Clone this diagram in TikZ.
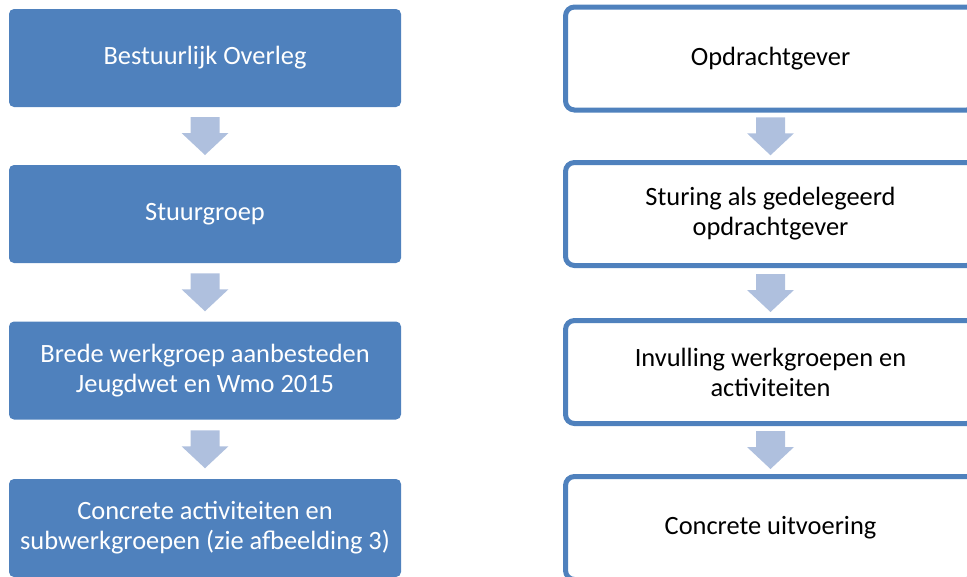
\documentclass[tikz,border=0pt]{standalone}
\usepackage{fontspec}
\setmainfont{Carlito}
\usetikzlibrary{calc}
\definecolor{accblue}{HTML}{4F81BD}
\definecolor{arrowblue}{RGB}{175,192,222}
\tikzset{
  leftbox/.style={fill=accblue, draw=none, rounded corners=5pt, minimum width=392pt, minimum height=98pt,
    align=center, text=white, inner sep=0pt, outer sep=0pt, font=\fontsize{26.4}{30}\selectfont},
  rightbox/.style={draw=accblue, fill=white, line width=5pt, rounded corners=9pt, minimum width=410pt, minimum height=103pt,
    align=center, text=black, inner sep=0pt, font=\fontsize{26.4}{30}\selectfont},
  blockarrow/.style={fill=arrowblue, draw=none}
}
\newcommand{\blockarr}[3]{%
  \coordinate (#3) at ($(#1.south)!0.5!(#2.north)$);
  \fill[blockarrow] (#3) ++(-14.5,-19) -- ++(29,0) -- ++(0,16) -- ++(9,0) -- ++(-23.5,22) -- ++(-23.5,-22) -- ++(9,0) -- cycle;
}
\begin{document}
\begin{tikzpicture}[x=1pt,y=-1pt]
\useasboundingbox (0,0) rectangle (967,576);
\clip (0,0) rectangle (967,576);
% left column
\node[leftbox] (l1) at (205,58) {Bestuurlijk Overleg};
\node[leftbox] (l2) at (205,214) {Stuurgroep};
\node[leftbox] (l3) at (205,370.5) {Brede werkgroep aanbesteden\\Jeugdwet en Wmo 2015};
\node[leftbox] (l4) at (205,528) {Concrete activiteiten en\\subwerkgroepen (zie afbeelding 3)};
% right column
\node[rightbox] (r1) at (770.5,58.5) {Opdrachtgever};
\node[rightbox] (r2) at (770.5,214) {Sturing als gedelegeerd\\opdrachtgever};
\node[rightbox] (r3) at (770.5,372) {Invulling werkgroepen en\\activiteiten};
\node[rightbox] (r4) at (770.5,528) {Concrete uitvoering};
% arrows
\blockarr{l1}{l2}{al1}
\blockarr{l2}{l3}{al2}
\blockarr{l3}{l4}{al3}
\blockarr{r1}{r2}{ar1}
\blockarr{r2}{r3}{ar2}
\blockarr{r3}{r4}{ar3}
\end{tikzpicture}
\end{document}
